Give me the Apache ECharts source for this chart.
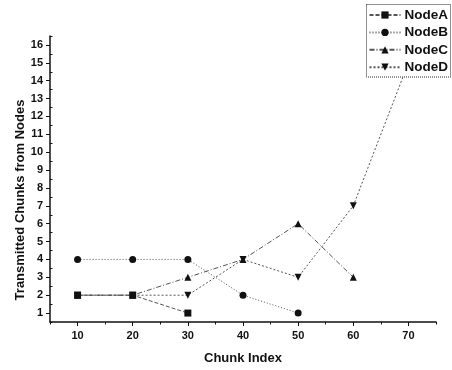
<!DOCTYPE html>
<html>
<head>
<meta charset="utf-8">
<script src="https://cdn.jsdelivr.net/npm/echarts@6/dist/echarts.min.js"></script>
<style>
  html, body { margin: 0; padding: 0; background: #fff; }
  #main { width: 452px; height: 370px; }
</style>
</head>
<body>
<div id="main"></div>
<script>
// values
var chunkIndex = [10, 20, 30, 40, 50, 60, 70];
var nodeA = [2, 2, 1, null, null, null, null];
var nodeB = [4, 4, 4, 2, 1, null, null];
var nodeC = [2, 2, 3, 4, 6, 3, null];
var nodeD = [2, 2, 2, 4, 3, 7, 15];

// tick positions
var xMajor = [10, 20, 30, 40, 50, 60, 70];
var xMinor = [5, 15, 25, 35, 45, 55, 65, 75];
var yMajor = [1, 2, 3, 4, 5, 6, 7, 8, 9, 10, 11, 12, 13, 14, 15, 16];
var yMinor = [0.5, 1.5, 2.5, 3.5, 4.5, 5.5, 6.5, 7.5, 8.5, 9.5, 10.5, 11.5, 12.5, 13.5, 14.5, 15.5, 16.5];

function pairs(ys) {
  var out = [];
  for (var i = 0; i < chunkIndex.length; i++) {
    out.push([chunkIndex[i], ys[i]]);
  }
  return out;
}

var ink = '#111';
var font = 'Liberation Sans, Arial, sans-serif';

function line(name, ys, symbol, dash, rotate) {
  return {
    name: name,
    type: 'line',
    data: pairs(ys),
    symbol: symbol,
    symbolSize: 7,
    symbolRotate: rotate || 0,
    connectNulls: false,
    itemStyle: { color: ink },
    lineStyle: { color: '#555', width: 1, type: dash }
  };
}

var myChart = echarts.init(document.getElementById('main'));
var option = {
  backgroundColor: '#fff',
  animation: false,
  grid: { left: 50, right: 16, top: 36, bottom: 46 },
  legend: {
    orient: 'vertical',
    right: 1,
    top: 4,
    width: 85,
    padding: [4, 3, 3, 3],
    itemWidth: 31,
    itemHeight: 9,
    itemGap: 3.4,
    backgroundColor: '#fff',
    textStyle: { fontFamily: font, fontSize: 13.5, fontWeight: 'bold', color: ink, padding: [0, 0, 0, -1] },
    data: ['NodeA', 'NodeB', 'NodeC', 'NodeD']
  },
  graphic: [
    {
      type: 'rect',
      z: 100,
      shape: { x: 366.5, y: 4.5, width: 84, height: 72.5 },
      style: { fill: 'none', stroke: '#222', lineWidth: 1, lineDash: [1, 1] }
    },
    {
      type: 'text',
      z: 100,
      x: 20,
      y: 200,
      rotation: Math.PI / 2,
      style: {
        text: 'Transmitted Chunks from Nodes',
        fontFamily: font,
        fontSize: 13,
        fontWeight: 'bold',
        fill: ink,
        align: 'center',
        verticalAlign: 'middle'
      }
    }
  ],
  xAxis: [
    {
      type: 'value',
      min: 5,
      max: 75,
      name: 'Chunk Index',
      nameLocation: 'middle',
      nameGap: 30,
      nameTextStyle: { fontFamily: font, fontSize: 13, fontWeight: 'bold', color: ink },
      axisLine: { show: true, lineStyle: { color: ink, width: 1.5 } },
      axisTick: { show: true, customValues: xMajor, length: 4, lineStyle: { color: ink } },
      axisLabel: { customValues: xMajor, margin: 8, fontFamily: font, fontSize: 11, fontWeight: 'bold', color: ink },
      splitLine: { show: false }
    },
    {
      type: 'value',
      min: 5,
      max: 75,
      position: 'bottom',
      axisLine: { show: false },
      axisTick: { show: true, customValues: xMinor, length: 2.5, lineStyle: { color: ink } },
      axisLabel: { show: false },
      splitLine: { show: false }
    }
  ],
  yAxis: [
    {
      type: 'value',
      min: 0.5,
      max: 16.5,
      axisLine: { show: true, lineStyle: { color: ink, width: 1.5 } },
      axisTick: { show: true, customValues: yMajor, length: 4, lineStyle: { color: ink } },
      axisLabel: { customValues: yMajor, margin: 7, fontFamily: font, fontSize: 11, fontWeight: 'bold', color: ink },
      splitLine: { show: false }
    },
    {
      type: 'value',
      min: 0.5,
      max: 16.5,
      position: 'left',
      axisLine: { show: false },
      axisTick: { show: true, inside: true, customValues: yMinor, length: 2.5, lineStyle: { color: ink } },
      axisLabel: { show: false },
      splitLine: { show: false }
    }
  ],
  series: [
    line('NodeA', nodeA, 'rect', [4, 2]),
    line('NodeB', nodeB, 'circle', [1, 2]),
    line('NodeC', nodeC, 'triangle', [5, 2, 1, 2]),
    line('NodeD', nodeD, 'triangle', [2, 2], 180)
  ]
};
myChart.setOption(option);
</script>
</body>
</html>
